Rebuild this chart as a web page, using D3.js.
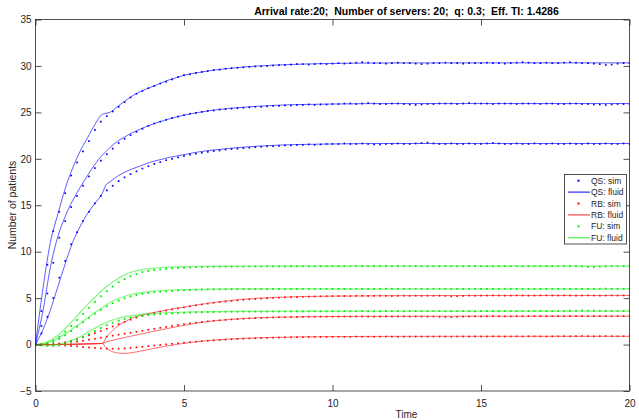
<!DOCTYPE html>
<html><head><meta charset="utf-8">
<script src="https://cdn.jsdelivr.net/npm/d3@7"></script>
<style>
body{margin:0;background:#fff}
text{font-family:"Liberation Sans",Arial,Helvetica,sans-serif}
</style>
</head><body>
<svg id="c" width="639" height="420"></svg>
<script>
// ---------------- data ----------------
const titleText = "Arrival rate:20;  Number of servers: 20;  q: 0.3;  Eff. TI: 1.4286";
const xLabel = "Time";
const yLabel = "Number of patients";
const xTicks = [0, 5, 10, 15, 20];
const yTicks = [-5, 0, 5, 10, 15, 20, 25, 30, 35];
const legendLabels = ["QS: sim", "QS: fluid", "RB: sim", "RB: fluid", "FU: sim", "FU: fluid"];

// simulation sampling times (0 .. 20 step 0.2)
const simTime = d3.range(101).map(i => +(i * 0.2).toFixed(1));
// fluid model time grid
const fluidTime = [0,0.25,0.5,0.75,1,1.25,1.5,1.75,2,2.25,2.375,2.5,2.75,3,3.25,3.5,3.75,4,4.25,4.5,4.75,5,5.5,6,7,8,9,10,12,14,16,18,20];

// QS (blue)
const qsSim1 = [0,3.6,8.6,12.2,14.3,16.3,18.2,19.6,20.8,21.9, 23.1,24.0,24.6,25.1,25.6,26.1,26.6,27.0,27.3,27.6, 27.85,28.1,28.3,28.55,28.8,29.0,29.1,29.25,29.35,29.45, 29.55,29.6,29.7,29.75,29.8,29.85,29.9,29.95,29.95,30.0, 30.05,30.1,30.1,30.15,30.2,30.2,30.15,30.2,30.25,30.2, 30.25,
 30.3,30.25,30.3,30.35,30.4,30.35,30.3,30.3,30.25,30.3, 30.35,30.3,30.3,30.25,30.2,30.25,30.3,30.3,30.35,30.3, 30.3,30.25,30.3,30.3,30.3,30.35,30.3,30.3,30.25,30.3, 30.35,30.4,30.35,30.3,30.3,30.35,30.3,30.3,30.35,30.4, 30.35,30.3,30.3,30.25,30.2,30.1,30.15,30.25,30.3,30.3];
const qsSim2 = [0,2.0,5.5,8.8,11.5,13.3,14.8,16.0,17.1,18.1, 19.0,19.8,20.5,21.1,21.7,22.15,22.55,22.9,23.25,23.55, 23.8,24.0,24.2,24.4,24.55,24.7,24.85,24.95,25.05,25.15, 25.2,25.3,25.35,25.4,25.45,25.5,25.55,25.6,25.6,25.65, 25.7,25.7,25.75,25.75,25.8,25.8,25.85,25.8,25.85,25.85, 25.9,
 25.9,25.95,25.95,25.9,25.95,26.0,25.95,25.9,25.9,25.95, 25.95,25.9,25.85,25.8,25.85,25.9,25.9,25.95,25.95,25.95, 25.9,25.95,26.0,25.95,25.95,25.95,25.9,25.95,25.95,25.95, 25.9,25.95,25.95,25.95,25.9,25.95,25.95,25.9,25.9,25.95, 25.95,25.9,25.9,25.85,25.85,25.8,25.85,25.9,25.9,25.9];
const qsSim3 = [0,1.2,3.0,5.0,7.2,9.0,10.8,12.1,13.3,14.3, 15.2,16.0,16.6,17.1,17.6,18.0,18.35,18.65,18.95,19.2, 19.45,19.65,19.85,20.0,20.15,20.3,20.45,20.55,20.65,20.75, 20.85,20.9,21.0,21.05,21.1,21.15,21.2,21.25,21.3,21.35, 21.35,21.4,21.45,21.45,21.5,21.5,21.55,21.5,21.55,21.6, 21.6,
 21.6,21.65,21.6,21.6,21.65,21.6,21.55,21.55,21.6,21.6, 21.65,21.6,21.6,21.65,21.7,21.75,21.65,21.6,21.6,21.65, 21.6,21.6,21.65,21.6,21.6,21.65,21.7,21.65,21.6,21.6, 21.65,21.6,21.6,21.65,21.6,21.6,21.65,21.6,21.6,21.65, 21.6,21.6,21.65,21.6,21.6,21.65,21.6,21.6,21.65,21.6];
const qsFluid1 = [0,6.0,11.0,14.0,16.8,19.0,20.8,22.25,23.7,24.8,24.9,25.0,25.6,26.2,26.75,27.2,27.55,27.85,28.2,28.5,28.75,29.0,29.3,29.55,29.88,30.08,30.2,30.27,30.32,30.33,30.33,30.33,30.33];
const qsFluid2 = [0,3.6,8.3,11.6,13.8,15.5,16.9,18.2,19.4,20.4,20.8,21.2,21.85,22.35,22.8,23.15,23.5,23.8,24.05,24.3,24.5,24.7,25.0,25.25,25.55,25.75,25.85,25.9,25.95,25.95,25.95,25.95,25.95];
const qsFluid3 = [0,1.6,3.7,6.2,8.7,11.0,12.7,14.1,15.2,16.3,17.2,17.5,18.1,18.55,18.9,19.2,19.5,19.75,19.95,20.15,20.3,20.45,20.75,20.95,21.25,21.45,21.55,21.6,21.65,21.65,21.65,21.65,21.65];

// RB (red)
const rbSim1 = [0,0,0,0.03,0.12,0.25,0.4,0.58,0.78,1.0, 1.22,1.46,1.7,1.95,2.2,2.45,2.68,2.9,3.08,3.25, 3.4,3.54,3.67,3.79,3.9,4.01,4.12,4.22,4.32,4.41, 4.5,4.57,4.64,4.7,4.76,4.82,4.87,4.91,4.95,4.99, 5.02,5.05,5.08,5.1,5.12,5.14,5.16,5.17,5.19,5.2, 5.21,
 5.22,5.23,5.22,5.24,5.25,5.24,5.25,5.26,5.25,5.24, 5.25,5.26,5.25,5.26,5.25,5.26,5.25,5.26,5.24,5.19, 5.2,5.24,5.27,5.26,5.27,5.28,5.29,5.28,5.27,5.28, 5.29,5.28,5.27,5.28,5.29,5.3,5.29,5.28,5.29,5.28, 5.27,5.28,5.29,5.28,5.27,5.28,5.29,5.28,5.29,5.28];
const rbSim2 = [0,0,0,0.02,0.07,0.14,0.22,0.31,0.41,0.52, 0.63,0.74,0.85,0.96,1.07,1.17,1.27,1.38,1.48,1.59, 1.7,1.8,1.9,2.0,2.1,2.19,2.28,2.36,2.43,2.5, 2.56,2.61,2.66,2.71,2.75,2.79,2.82,2.85,2.88,2.9, 2.92,2.94,2.95,2.97,2.98,2.99,3.0,3.0,3.01,3.01, 3.01,
 3.01,3.02,3.01,3.02,3.03,3.02,3.01,3.02,3.03,3.02, 3.02,3.03,3.02,3.03,3.02,3.01,3.02,3.0,2.97,2.96, 2.99,3.02,3.03,3.04,3.03,3.04,3.05,3.04,3.03,3.04, 3.05,3.04,3.05,3.06,3.05,3.04,3.05,3.06,3.05,3.06, 3.07,3.06,3.05,3.06,3.07,3.06,3.05,3.06,3.07,3.06];
const rbSim3 = [0,0,0,-0.02,-0.05,-0.1,-0.15,-0.2,-0.26,-0.32, -0.37,-0.41,-0.44,-0.45,-0.44,-0.41,-0.36,-0.3,-0.24,-0.17, -0.1,-0.04,0.02,0.08,0.14,0.2,0.26,0.31,0.36,0.41, 0.45,0.49,0.53,0.57,0.6,0.63,0.66,0.68,0.7,0.72, 0.74,0.75,0.77,0.78,0.79,0.8,0.81,0.82,0.82,0.83, 0.83,
 0.84,0.83,0.84,0.85,0.84,0.85,0.84,0.85,0.86,0.85, 0.84,0.85,0.86,0.85,0.86,0.85,0.86,0.87,0.86,0.85, 0.86,0.87,0.86,0.87,0.86,0.87,0.88,0.87,0.86,0.87, 0.88,0.87,0.88,0.89,0.88,0.87,0.88,0.89,0.9,0.89, 0.9,0.91,0.9,0.89,0.9,0.91,0.9,0.89,0.9,0.91];
const rbFluid1 = [0,0,0,0.01,0.02,0.03,0.05,0.07,0.09,0.12,0.75,1.2,1.95,2.45,2.85,3.1,3.3,3.47,3.62,3.76,3.9,4.03,4.3,4.53,4.88,5.07,5.17,5.22,5.26,5.28,5.28,5.28,5.28];
const rbFluid2 = [0,0,0,0.01,0.02,0.03,0.05,0.07,0.09,0.12,0.26,0.38,0.58,0.76,0.93,1.1,1.27,1.44,1.6,1.76,1.92,2.07,2.35,2.55,2.8,2.93,2.99,3.02,3.04,3.05,3.05,3.05,3.05];
const rbFluid3 = [0,0,0,0.01,0.02,0.03,0.05,0.07,0.09,0.12,-0.35,-0.62,-0.9,-0.95,-0.87,-0.73,-0.57,-0.41,-0.26,-0.12,0.01,0.13,0.33,0.48,0.67,0.77,0.83,0.86,0.88,0.89,0.89,0.89,0.89];

// FU (green)
const fuSim1 = [0,0,0.12,0.4,0.85,1.4,2.0,2.65,3.3,3.95, 4.6,5.2,5.75,6.25,6.7,7.05,7.35,7.6,7.8,7.93, 8.03,8.1,8.16,8.21,8.25,8.28,8.31,8.33,8.35,8.37, 8.38,8.39,8.4, 8.4,8.41,8.4,8.42,8.41,8.42,8.43,8.42,8.43,8.42,8.43,8.44,8.43,8.42,8.43,8.44,8.43,8.44,
 8.44,8.43,8.44,8.45,8.44,8.43,8.44,8.45,8.44,8.43, 8.44,8.44,8.45,8.44,8.43,8.42,8.43,8.44,8.45,8.44, 8.44,8.43,8.44,8.45,8.44,8.44,8.43,8.44,8.45,8.44, 8.44,8.43,8.44,8.45,8.44,8.44,8.43,8.44,8.45,8.44, 8.44,8.42,8.37,8.36,8.4,8.43,8.44,8.45,8.44,8.44];
const fuSim2 = [0,0,0.06,0.28,0.6,1.0,1.45,1.92,2.4,2.88, 3.33,3.75,4.12,4.45,4.74,4.98,5.18,5.33,5.45,5.55, 5.63,5.69,5.74,5.78,5.82,5.85,5.88,5.9,5.92,5.93, 5.94,5.95,5.95, 5.96,5.96,5.97,5.96,5.97,5.98,5.97,5.98,5.98,5.97,5.98,5.99,5.98,5.99,5.98,5.99,6.0,5.99,
 6.0,5.99,6.0,6.01,6.0,5.99,6.0,6.0,6.01,6.0, 5.99,6.0,6.0,6.01,6.0,5.99,6.0,6.01,6.0,6.0, 6.0,5.99,6.0,6.01,6.0,6.0,5.99,6.0,6.01,6.0, 6.0,6.01,6.0,6.0,5.99,6.0,6.01,6.0,6.0,6.0, 6.01,6.0,5.99,6.0,6.01,6.02,6.01,6.0,6.01,6.0];
const fuSim3 = [0,-0.08,-0.15,-0.15,-0.08,0.05,0.25,0.5,0.8,1.12, 1.45,1.78,2.08,2.35,2.58,2.76,2.9,3.01,3.1,3.17, 3.23,3.28,3.32,3.36,3.39,3.42,3.44,3.46,3.48,3.5, 3.51,3.52,3.53, 3.54,3.54,3.55,3.55,3.56,3.55,3.56,3.57,3.56,3.57,3.57,3.58,3.57,3.58,3.58,3.57,3.58,3.59,
 3.58,3.59,3.58,3.59,3.6,3.59,3.58,3.59,3.6,3.59, 3.6,3.59,3.6,3.6,3.59,3.6,3.61,3.6,3.59,3.6, 3.6,3.61,3.6,3.59,3.6,3.61,3.6,3.6,3.61,3.6, 3.61,3.6,3.6,3.61,3.62,3.61,3.6,3.61,3.62,3.63, 3.64,3.66,3.65,3.64,3.63,3.62,3.62,3.61,3.62,3.61];
const fuFluid1 = [0,0.12,0.45,1.0,1.7,2.55,3.45,4.3,5.1,5.85,6.2,6.5,7.05,7.5,7.82,8.02,8.15,8.24,8.3,8.34,8.37,8.39,8.41,8.42,8.43,8.44,8.44,8.44,8.44,8.44,8.44,8.44,8.44];
const fuFluid2 = [0,0.08,0.3,0.7,1.15,1.7,2.27,2.85,3.45,4.0,4.25,4.5,4.9,5.2,5.42,5.57,5.68,5.76,5.82,5.86,5.9,5.92,5.95,5.97,5.99,6.0,6.0,6.0,6.0,6.0,6.0,6.0,6.0];
const fuFluid3 = [0,-0.05,-0.06,0.03,0.22,0.5,0.85,1.3,1.75,2.2,2.38,2.55,2.8,3.0,3.12,3.22,3.3,3.35,3.4,3.44,3.47,3.5,3.53,3.55,3.57,3.58,3.6,3.6,3.6,3.6,3.6,3.6,3.6];

// ---------------- drawing ----------------
const svg = d3.select("#c");
svg.append("rect").attr("width", 639).attr("height", 420).attr("fill", "#fff");

const L = 35.5, R = 629.5, T = 19.5, B = 391;
const x = d3.scaleLinear().domain([0, 20]).range([L, R]);
const y = d3.scaleLinear().domain([-5, 35]).range([B, T]);
const axisColor = "#262626";

svg.append("defs").append("clipPath").attr("id", "clip")
  .append("rect").attr("x", L).attr("y", T).attr("width", R - L).attr("height", B - T);

const plot = svg.append("g").attr("clip-path", "url(#clip)");

const blue = "#0000ff", red = "#ff0000";
const styles = {
  qs: {dot: blue, line: blue, lo: 0.8, lw: 0.8, ds: 1.7},
  rb: {dot: red, line: "#ff2020", lo: 0.65, lw: 1, ds: 1.7},
  fu: {dot: "#00ee00", line: "#22ee22", lo: 0.55, lw: 1.2, ds: 1.8}
};

const lineGen = d3.line().x(d => x(d[0])).y(d => y(d[1])).curve(d3.curveMonotoneX);

function drawSim(vals, st) {
  plot.append("g").selectAll("rect").data(vals.map((v, i) => [simTime[i], v])).join("rect")
    .attr("x", d => x(d[0]) - st.ds / 2).attr("y", d => y(d[1]) - st.ds / 2)
    .attr("width", st.ds).attr("height", st.ds).attr("fill", st.dot);
}
function drawFluid(vals, st) {
  plot.append("path").datum(vals.map((v, i) => [fluidTime[i], v]))
    .attr("d", lineGen).attr("fill", "none")
    .attr("stroke", st.line).attr("stroke-opacity", st.lo).attr("stroke-width", st.lw);
}

[[qsSim1, qsFluid1, rbSim1, rbFluid1, fuSim1, fuFluid1],
 [qsSim2, qsFluid2, rbSim2, rbFluid2, fuSim2, fuFluid2],
 [qsSim3, qsFluid3, rbSim3, rbFluid3, fuSim3, fuFluid3]].forEach(s => {
  drawSim(s[0], styles.qs); drawFluid(s[1], styles.qs);
  drawSim(s[2], styles.rb); drawFluid(s[3], styles.rb);
  drawSim(s[4], styles.fu); drawFluid(s[5], styles.fu);
});

// axes
function styleAxis(g) {
  g.attr("color", axisColor);
  g.select(".domain").remove();
  g.selectAll("line").attr("stroke-width", 0.8);
  g.selectAll("text").attr("font-size", 10).attr("fill", axisColor)
    .attr("font-family", '"Liberation Sans", Arial, sans-serif');
}
svg.append("g").attr("transform", `translate(0,${B})`)
  .call(d3.axisBottom(x).tickValues(xTicks).tickSize(-6).tickPadding(8.5).tickFormat(d3.format("d"))).call(styleAxis);
svg.append("g").attr("transform", `translate(0,${T})`)
  .call(d3.axisTop(x).tickValues(xTicks).tickSize(-6).tickFormat("")).call(styleAxis);
svg.append("g").attr("transform", `translate(${L},0)`)
  .call(d3.axisLeft(y).tickValues(yTicks).tickSize(-6).tickPadding(4).tickFormat(d3.format("d"))).call(styleAxis);
svg.append("g").attr("transform", `translate(${R},0)`)
  .call(d3.axisRight(y).tickValues(yTicks).tickSize(-6).tickFormat("")).call(styleAxis);

svg.append("rect").attr("x", L).attr("y", T).attr("width", R - L).attr("height", B - T)
  .attr("fill", "none").attr("stroke", axisColor).attr("stroke-width", 0.8);

// title & labels
svg.append("text").attr("x", 406.5).attr("y", 14.5).attr("text-anchor", "middle")
  .attr("font-size", 10.5).attr("font-weight", "bold").attr("fill", "#000")
  .style("white-space", "pre").text(titleText);
svg.append("text").attr("x", 406.5).attr("y", 418).attr("text-anchor", "middle")
  .attr("font-size", 10).attr("fill", axisColor).text(xLabel);
svg.append("text").attr("transform", "translate(15.5,205) rotate(-90)").attr("text-anchor", "middle")
  .attr("font-size", 10.5).attr("fill", axisColor).text(yLabel);

// legend
const lg = svg.append("g");
lg.append("rect").attr("x", 564.5).attr("y", 174.5).attr("width", 62).attr("height", 69.5)
  .attr("fill", "#fff").attr("stroke", axisColor).attr("stroke-width", 0.8);
const legStyles = [styles.qs, styles.qs, styles.rb, styles.rb, styles.fu, styles.fu];
legendLabels.forEach((lab, i) => {
  const cy = 180.7 + i * 11.4;
  const st = legStyles[i];
  if (i % 2 === 0) {
    lg.append("rect").attr("x", 577.5).attr("y", cy - 1).attr("width", 2).attr("height", 2).attr("fill", st.dot);
  } else {
    lg.append("line").attr("x1", 568).attr("x2", 590).attr("y1", cy).attr("y2", cy)
      .attr("stroke", st.line).attr("stroke-opacity", Math.min(1, st.lo + 0.1)).attr("stroke-width", st.lw + 0.3);
  }
  lg.append("text").attr("x", 591).attr("y", cy + 3).attr("font-size", 8.5).attr("fill", axisColor).text(lab);
});
</script>
</body></html>
